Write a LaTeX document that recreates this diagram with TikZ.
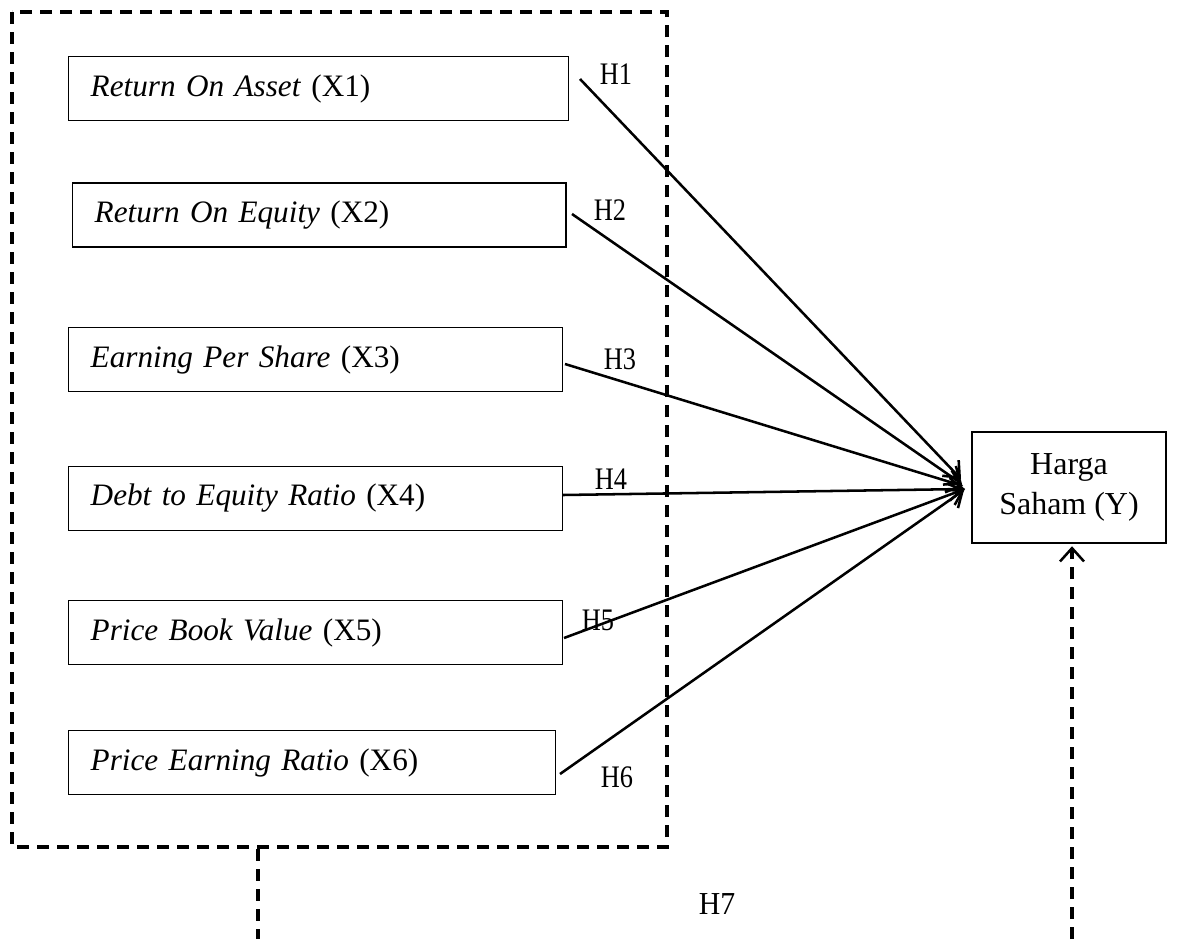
\documentclass[tikz,border=0pt]{standalone}
\usepackage{fontspec}
\setmainfont{Liberation Serif}
\newfontfamily\hlabfont[FakeStretch=0.84]{Liberation Serif}
\newfontfamily\hsevenfont[FakeStretch=0.93]{Liberation Serif}
\usetikzlibrary{arrows.meta}
\begin{document}
\begin{tikzpicture}[x=0.75pt,y=-0.75pt,
  every node/.style={font=\fontsize{23.4}{30}\selectfont},
  varbox/.style={draw, line width=1.1pt, anchor=west, minimum height=48pt, inner xsep=16.5pt, align=left},
  hlabel/.style={inner sep=0pt, font=\hlabfont\fontsize{23.5}{26}\selectfont},
  rel/.style={line width=1.9pt, -{Straight Barb[length=10pt,width=17pt,line width=1.9pt]}},
  dashline/.style={line width=2.3pt, dash pattern=on 9pt off 6pt}]
\useasboundingbox (0,0) rectangle (1185,939);
% dashed frame
\draw[dashline] (12,12) rectangle (667,847);
% variable boxes
\node[varbox, text width=342pt] (x1) at (68,88.5) {\textit{Return On Asset} (X1)};
\node[varbox, text width=337pt] (x2) at (72,215) {\textit{Return On Equity} (X2)};
\node[varbox, text width=337.5pt] (x3) at (68,359.5) {\textit{Earning Per Share} (X3)};
\node[varbox, text width=337.5pt] (x4) at (68,498.5) {\textit{Debt to Equity Ratio} (X4)};
\node[varbox, text width=337.5pt] (x5) at (68,632.5) {\textit{Price Book Value} (X5)};
\node[varbox, text width=332pt] (x6) at (68,762.5) {\textit{Price Earning Ratio} (X6)};
\node[draw, line width=1.1pt, minimum width=145.5pt, minimum height=83pt, align=center, font=\fontsize{24}{30}\selectfont] (y) at (1069,487.5) {Harga\\Saham (Y)};
% start and end points
\coordinate (s1) at (580,79);
\coordinate (s2) at (572,214);
\coordinate (s3) at (565,364);
\coordinate (s4) at (563,495);
\coordinate (s5) at (564,638);
\coordinate (s6) at (560,774);
\coordinate (e1) at (961,479);
\coordinate (e2) at (962,484);
\coordinate (e3) at (963,486);
\coordinate (e4) at (965,489);
\coordinate (e5) at (965,489);
\coordinate (e6) at (964,490);
\draw[rel] (s1) -- (e1);
\draw[rel] (s2) -- (e2);
\draw[rel] (s3) -- (e3);
\draw[rel] (s4) -- (e4);
\draw[rel] (s5) -- (e5);
\draw[rel] (s6) -- (e6);
% labels
\node[hlabel] (h1) at (616,74) {H1};
\node[hlabel] (h2) at (610,210) {H2};
\node[hlabel] (h3) at (620,359) {H3};
\node[hlabel] (h4) at (611,479) {H4};
\node[hlabel] (h5) at (598,620) {H5};
\node[hlabel] (h6) at (617,777) {H6};
\node[hlabel, font=\hsevenfont\fontsize{24}{26}\selectfont] (h7) at (717,904) {H7};
% bottom dashed link
\coordinate (b1) at (258,849);
\coordinate (b2) at (258,939);
\coordinate (b3) at (1072,939);
\draw[dashline] (b1) -- (b2);
\draw[dashline, -{Straight Barb[length=10pt,width=18pt,line width=1.9pt]}] (b3) -- ([yshift=-2pt]y.south -| b3);
\end{tikzpicture}
\end{document}
